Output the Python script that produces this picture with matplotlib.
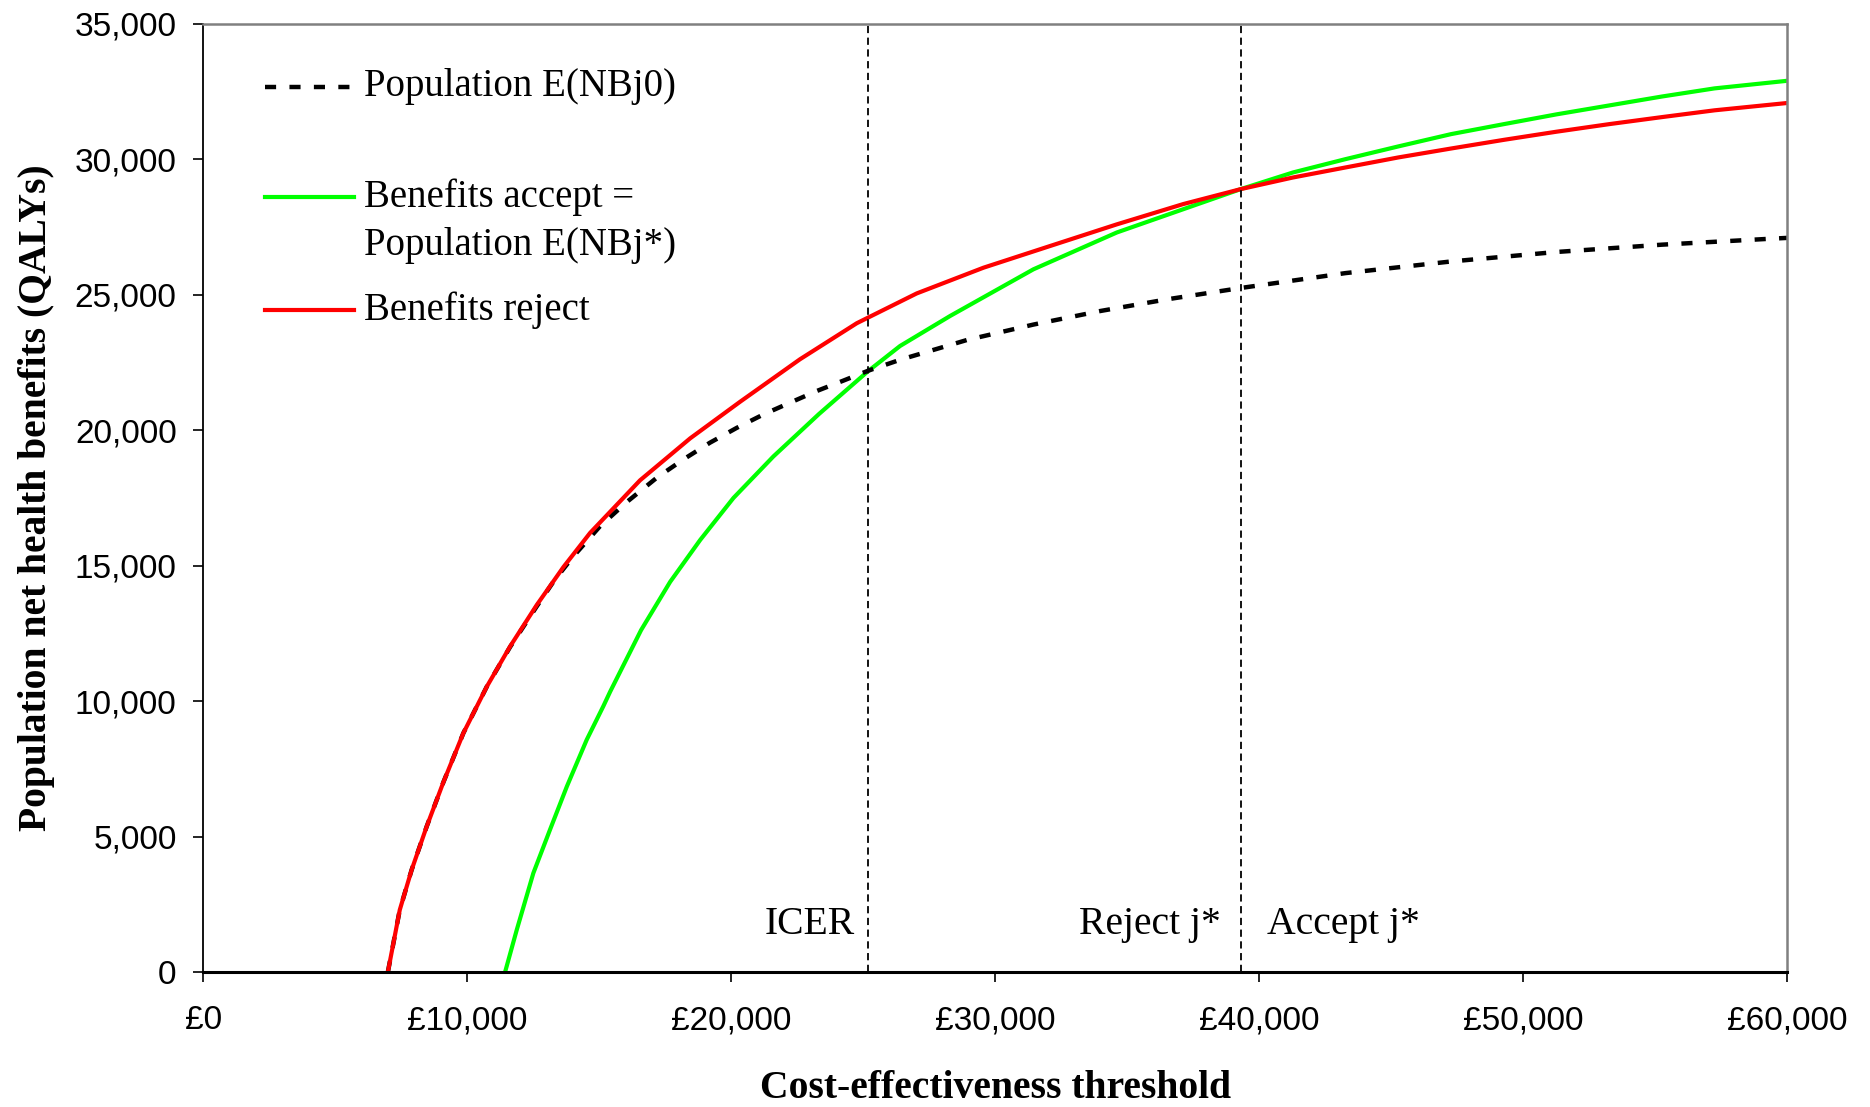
import matplotlib.pyplot as plt
from matplotlib.ticker import FuncFormatter

# Benefits reject (red)
reject_x = [7000, 7450, 7900, 8470, 9100, 9860, 10750, 11630, 12640, 13650, 14660, 16550,
            18450, 20340, 22610, 24760, 27030, 29560, 32080, 34610, 37130, 39300, 41280,
            43270, 45270, 47270, 49270, 51260, 53260, 55260, 57250, 60000]
reject_y = [0, 2290, 3770, 5370, 7000, 8820, 10540, 12020, 13550, 14950, 16210, 18150,
            19700, 21050, 22620, 23950, 25050, 26000, 26800, 27600, 28350, 28900, 29330,
            29700, 30070, 30400, 30720, 31020, 31300, 31560, 31810, 32080]

# Population E(NBj0) (black dashed)
nb0_x = [7000, 7450, 7900, 8470, 9100, 9860, 10750, 11630, 12640, 13300, 14030, 15040,
         16050, 17190, 18190, 19200, 20220, 21220, 22240, 23250, 24250, 25200, 26400,
         28930, 31450, 33980, 36500, 39300, 43270, 47270, 51260, 55260, 59200, 60000]
nb0_y = [0, 2290, 3770, 5370, 7000, 8820, 10540, 12000, 13500, 14450, 15350, 16460,
         17350, 18250, 18920, 19540, 20090, 20580, 21020, 21450, 21830, 22200, 22600,
         23330, 23900, 24400, 24830, 25250, 25800, 26230, 26580, 26850, 27060, 27100]

# Benefits accept = Population E(NBj*) (green)
accept_x = [11440, 11880, 12510, 13140, 13780, 14530, 15160, 15420, 16590, 17690, 18830,
            20090, 21600, 23330, 25200, 26400, 28300, 31450, 34610, 37130, 39300, 41280,
            43270, 45270, 47270, 49270, 51260, 53260, 55260, 57250, 60000]
accept_y = [0, 1550, 3650, 5250, 6850, 8570, 9810, 10350, 12620, 14400, 15950,
            17500, 19030, 20600, 22190, 23110, 24220, 25940, 27300, 28160, 28900, 29515,
            30007, 30477, 30931, 31300, 31660, 31990, 32320, 32620, 32900]

icer = 25200
switch_point = 39300

x_ticks = [0, 10000, 20000, 30000, 40000, 50000, 60000]
y_ticks = [0, 5000, 10000, 15000, 20000, 25000, 30000, 35000]

serif = "Liberation Serif"
sans = "Liberation Sans"

fig = plt.figure(figsize=(18.7, 11.07), dpi=100)
ax = fig.add_axes([0.1086, 0.122, 0.8471, 0.8564])

ax.plot(accept_x, accept_y, color="#00ff00", lw=3.0, solid_capstyle="butt")
ax.plot(nb0_x, nb0_y, color="black", lw=3.2, dashes=(2.5, 3))
ax.plot(reject_x, reject_y, color="#ff0000", lw=3.0, solid_capstyle="butt")

ax.axvline(icer, color="black", lw=1.3, dashes=(4, 2.5))
ax.axvline(switch_point, color="black", lw=1.3, dashes=(4, 2.5))

ax.set_xlim(0, 60000)
ax.set_ylim(0, 35000)
ax.set_xticks(x_ticks)
ax.set_yticks(y_ticks)
ax.xaxis.set_major_formatter(FuncFormatter(lambda v, p: "£{:,.0f}".format(v)))
ax.yaxis.set_major_formatter(FuncFormatter(lambda v, p: "{:,.0f}".format(v)))
ax.tick_params(axis="both", direction="out", length=7, width=1.2, labelsize=24)
ax.tick_params(axis="x", pad=17)
ax.tick_params(axis="y", pad=12)
for lab in ax.get_xticklabels() + ax.get_yticklabels():
    lab.set_fontfamily(sans)

ax.spines["left"].set_color("black")
ax.spines["left"].set_linewidth(1.3)
ax.spines["bottom"].set_color("black")
ax.spines["bottom"].set_linewidth(2.2)
ax.spines["top"].set_color("#808080")
ax.spines["right"].set_color("#808080")
ax.spines["top"].set_linewidth(1.8)
ax.spines["right"].set_linewidth(1.8)

ax.set_xlabel("Cost-effectiveness threshold", fontfamily=serif, fontweight="bold",
              fontsize=28.5, labelpad=24)
ax.set_ylabel("Population net health benefits (QALYs)", fontfamily=serif, fontweight="bold",
              fontsize=28.5, labelpad=14)

# labels next to the vertical lines
ax.annotate("ICER", xy=(icer, 1750), xytext=(-10, 0), textcoords="offset points",
            ha="right", va="center", fontfamily=serif, fontsize=28.5)
ax.annotate("Reject j*", xy=(switch_point, 1750), xytext=(-14, 0), textcoords="offset points",
            ha="right", va="center", fontfamily=serif, fontsize=28.5)
ax.annotate("Accept j*", xy=(switch_point, 1750), xytext=(19, 0), textcoords="offset points",
            ha="left", va="center", fontfamily=serif, fontsize=28.5)

# legend drawn by hand so the two-line label lines up like the original
leg_x0, leg_x1, leg_tx = 0.039, 0.0953, 0.1016
ax.plot([leg_x0, leg_x1], [0.9335, 0.9335], transform=ax.transAxes, color="black",
        lw=3.2, dashes=(2.5, 3))
ax.text(leg_tx, 0.9335, "Population E(NBj0)", transform=ax.transAxes, va="center",
        fontfamily=serif, fontsize=28)
ax.plot([leg_x0, leg_x1], [0.8175, 0.8175], transform=ax.transAxes, color="#00ff00", lw=3.0)
ax.text(leg_tx, 0.8175, "Benefits accept =", transform=ax.transAxes, va="center",
        fontfamily=serif, fontsize=28)
ax.text(leg_tx, 0.7665, "Population E(NBj*)", transform=ax.transAxes, va="center",
        fontfamily=serif, fontsize=28)
ax.plot([leg_x0, leg_x1], [0.6985, 0.6985], transform=ax.transAxes, color="#ff0000", lw=3.0)
ax.text(leg_tx, 0.6985, "Benefits reject", transform=ax.transAxes, va="center",
        fontfamily=serif, fontsize=28)

fig.savefig("out.png", dpi=100)
